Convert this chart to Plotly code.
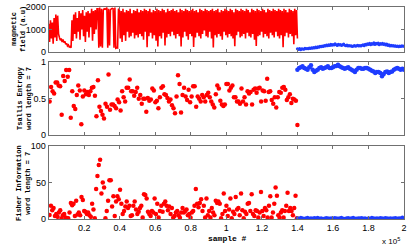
import numpy as np
import plotly.graph_objects as go

# ---------------- data (x in units of 1e5 samples) ----------------
mag_red_a = [1250, 450, 1400, 600, 1300, 380, 1500, 650, 1650, 500, 1600, 800]
mag_red_b = [650, 520, 600, 450, 560, 430, 480, 350, 400, 280, 320, 230, 260, 200]
mag_red_c = [1400, 500, 1650, 800, 1750, 600, 1500, 900, 1800, 550, 1700, 1000, 1850, 700, 1600,
             450, 1750, 900, 1800, 650, 1700, 1100, 1900, 500, 1800, 800, 1850, 1000, 1900]
mag_red_d = [1900, 200, 1950, 250, 1900, 200, 1850, 1900, 1880, 1900, 1950, 200, 1900, 300, 1850,
             1900, 1920, 1900, 200, 1950, 180, 200, 190, 1900]
mag_red_e = [
    1850, 600, 1800, 450, 1900, 750, 1750, 500, 1850, 900, 1800, 650, 1900, 700, 1700, 850, 1850, 600, 1800, 750,
    1900, 650, 1750, 800, 1850, 700, 1800, 550, 1900, 900, 1850, 220, 1800, 700, 1900, 850, 1750, 600, 1850, 750,
    1800, 500, 1900, 250, 1850, 700, 1800, 600, 1900, 850, 1850, 300, 1750, 650, 1900, 800, 1800, 700, 1850, 900,
    1900, 750, 1800, 600, 1850, 800, 1750, 700, 1900, 250, 1850, 650, 1800, 900, 1900, 700, 1850, 550, 1800, 800,
    1850, 700, 1900, 230, 1800, 650, 1850, 850, 1750, 700, 1900, 600, 1850, 800, 1800, 950, 1900, 700, 1850, 650,
    1800, 900, 1850, 600, 1900, 210, 1800, 750, 1850, 650, 1900, 800, 1750, 700, 1850, 550, 1800, 900, 1900, 750,
    1850, 650, 1800, 800, 1900, 700, 1850, 600, 1750, 260, 1900, 750, 1850, 900, 1800, 650, 1900, 700, 1850, 800,
    1800, 600, 1900, 850, 1850, 700, 1750, 650, 1900, 800, 1850, 550, 1800, 280, 1900, 700, 1850, 750, 1800, 900,
    1900, 650, 1850, 800, 1750, 700, 1900, 600, 1850, 850, 1800, 750, 1900, 650, 1850, 900, 1800, 700, 1900, 600,
    1850, 750, 1800, 220, 1900, 700, 1850, 850, 1750, 650, 1900, 800, 1850, 700, 1800, 350, 1900, 750, 1850, 600]

mag_blue = [150, 120, 170, 110, 160, 140, 130, 180, 150, 170,
            160, 190, 170, 200, 180, 210, 190, 230, 200, 240,
            220, 260, 240, 280, 250, 300, 270, 320, 290, 330,
            300, 350, 310, 340, 320, 370, 330, 300, 350, 320,
            340, 300, 330, 360, 310, 290, 320, 280, 300, 270,
            290, 250, 280, 300, 260, 290, 310, 270, 300, 280,
            310, 330, 290, 350, 320, 370, 340, 400, 330, 380,
            350, 420, 340, 390, 360, 410, 330, 380, 350, 400,
            340, 370, 320, 360, 300, 330, 280, 310, 270, 300,
            260, 290, 250, 280, 240, 270, 250, 290, 260, 280]

tsallis_red = [0.46, 0.66, 0.60, 0.57, 0.72, 0.72, 0.68, 0.67, 0.28, 0.81, 0.74, 0.89, 0.80, 0.89, 0.24,
               0.60, 0.40, 0.36, 0.55, 0.68, 0.61, 0.15, 0.53, 0.61, 0.56, 0.59, 0.55, 0.60, 0.65, 0.66,
               0.54, 0.26, 0.75, 0.39, 0.33, 0.28, 0.23, 0.43, 0.39, 0.83, 0.35, 0.42, 0.42, 0.40, 0.37,
               0.49, 0.45, 0.34, 0.60, 0.52, 0.46, 0.65, 0.65, 0.76, 0.60, 0.60, 0.54, 0.59, 0.65, 0.50,
               0.55, 0.43, 0.50, 0.50, 0.32, 0.51, 0.47, 0.49, 0.64, 0.61, 0.45, 0.47, 0.37, 0.52, 0.65,
               0.67, 0.56, 0.55, 0.51, 0.46, 0.49, 0.41, 0.37, 0.30, 0.53, 0.82, 0.70, 0.31, 0.55, 0.65,
               0.53, 0.48, 0.62, 0.45, 0.53, 0.67, 0.67, 0.39, 0.53, 0.50, 0.46, 0.55, 0.52, 0.46, 0.55,
               0.58, 0.52, 0.46, 0.42, 0.38, 0.56, 0.68, 0.64,
               0.47, 0.42, 0.40, 0.42, 0.70, 0.70, 0.61, 0.65, 0.68, 0.52, 0.52, 0.46, 0.46, 0.43, 0.64,
               0.46, 0.52, 0.42, 0.60, 0.57, 0.59, 0.42, 0.62, 0.64, 0.58, 0.64, 0.65, 0.46, 0.61, 0.60,
               0.47, 0.77, 0.59, 0.60, 0.48, 0.43, 0.52, 0.38, 0.52, 0.59, 0.58, 0.65, 0.66, 0.62, 0.48,
               0.52, 0.56, 0.44, 0.50, 0.49, 0.47, 0.14]

tsallis_blue = [0.895, 0.918, 0.927, 0.941, 0.918, 0.909, 0.895, 0.927, 0.954, 0.895, 0.863, 0.881, 0.895,
                0.918, 0.927, 0.909, 0.918, 0.927, 0.941, 0.918, 0.918, 0.927, 0.941, 0.945, 0.963, 0.941,
                0.927, 0.918, 0.909, 0.918, 0.927, 0.909, 0.895, 0.881, 0.863, 0.895, 0.918, 0.918, 0.909,
                0.909, 0.918, 0.918, 0.909, 0.895, 0.881, 0.872, 0.849, 0.863, 0.863, 0.849, 0.804, 0.836,
                0.863, 0.872, 0.849, 0.863, 0.872, 0.895, 0.909, 0.918, 0.909, 0.895, 0.909, 0.895]

fisher_red = [5.5, 18, 12, 15, 4, 7, 3, 9, 12, 1, 5, 7, 2, 1, 1, 9, 22, 19, 21, 4, 25, 6, 9, 5, 30, 26, 11, 10,
              7, 9, 5, 3, 21, 13, 1, 41, 59, 74, 81, 35, 50, 43, 1, 11, 25, 53, 53, 17, 31, 4, 24, 31, 27,
              40, 21, 7, 11, 17, 24, 15, 18, 4, 5, 18, 24, 13, 7, 10, 15, 18, 2, 34, 33, 28, 10, 7, 4, 11,
              9, 28, 7, 21, 2, 11, 18, 10, 21, 24, 18, 12, 17, 7, 15, 2, 4, 9, 11, 5, 2, 9, 15, 9, 11, 13,
              5, 7, 2, 9, 11, 18, 41, 21, 16, 22, 27, 11, 18, 2, 28, 5, 11, 2, 15, 9, 5, 25, 22, 24, 21, 1,
              7, 35, 11, 18, 4, 13, 28, 1, 10, 7, 30, 13, 15, 5, 35, 12, 1, 10, 7, 21, 22, 11, 34, 7, 4, 12,
              11, 2, 9, 37, 11, 4, 15, 12, 2, 18, 31, 2, 9, 21, 43, 32, 5, 2, 9, 12, 2, 11, 18, 36, 11, 15,
              11, 5, 15, 32, 1]

fisher_blue = [1.5, 1.0, 2.0, 1.2, 0.8, 1.5, 2.0, 1.0, 1.3, 0.9, 1.6, 1.2, 2.2, 1.0, 1.4, 0.8, 1.1, 1.8,
               1.3, 1.0, 1.5, 0.9, 1.7, 1.2, 1.0, 1.4, 2.0, 1.1, 0.8, 1.3, 1.6, 1.0, 1.2, 1.9, 1.1, 0.9,
               1.4, 1.2, 1.7, 1.0, 1.3, 0.8, 1.5, 1.1, 2.1, 1.2, 1.0, 1.4, 0.9, 1.6, 1.3, 1.0, 1.8, 1.2,
               1.1, 1.5, 0.9, 1.3, 1.7, 1.0, 1.4, 1.2, 2.4, 1.5]

x_ticks = [0.2, 0.4, 0.6, 0.8, 1.0, 1.2, 1.4, 1.6, 1.8, 2.0]
x_ticktext = ["0.2", "0.4", "0.6", "0.8", "1", "1.2", "1.4", "1.6", "1.8", "2"]

mag_red = mag_red_a + mag_red_b + mag_red_c + mag_red_d + mag_red_e
x_mag_red = np.linspace(0.0, 1.40, len(mag_red))
x_mag_blue = np.linspace(1.40, 2.0, len(mag_blue))
x_ts_red = np.linspace(0.005, 1.40, len(tsallis_red))
x_ts_blue = np.linspace(1.40, 2.0, len(tsallis_blue))
x_fi_red = np.linspace(0.005, 1.397, len(fisher_red))
x_fi_blue = np.linspace(1.40, 2.0, len(fisher_blue))

# ---------------- figure ----------------
W, H = 415, 247
RED = "#ff0000"
BLUE = "#1e3cff"
AX = "#707070"

fig = go.Figure()
fig.add_trace(go.Scatter(x=x_mag_red, y=mag_red, mode="lines",
                         line=dict(color=RED, width=1.6, simplify=False),
                         xaxis="x", yaxis="y"))
fig.add_trace(go.Scatter(x=x_mag_blue, y=mag_blue, mode="lines+markers", line=dict(color=BLUE, width=1),
                         marker=dict(color=BLUE, size=3), xaxis="x", yaxis="y"))
fig.add_trace(go.Scatter(x=x_ts_red, y=tsallis_red, mode="markers", marker=dict(color=RED, size=4.5),
                         xaxis="x2", yaxis="y2"))
fig.add_trace(go.Scatter(x=x_ts_blue, y=tsallis_blue, mode="lines+markers", line=dict(color=BLUE, width=1),
                         marker=dict(color=BLUE, size=4.5), xaxis="x2", yaxis="y2"))
fig.add_trace(go.Scatter(x=x_fi_red, y=fisher_red, mode="markers", marker=dict(color=RED, size=4.5),
                         xaxis="x3", yaxis="y3"))
fig.add_trace(go.Scatter(x=x_fi_blue, y=fisher_blue, mode="lines+markers", line=dict(color=BLUE, width=1),
                         marker=dict(color=BLUE, size=3.5), xaxis="x3", yaxis="y3"))

xd = [48.7 / W, 404 / W]


def ydom(top, bottom):
    return [1 - bottom / H, 1 - top / H]


tickfont = dict(family="Liberation Sans, Arial", size=9, color="black")
common_x = dict(domain=xd, range=[0, 2], tickvals=x_ticks, ticktext=x_ticktext, ticks="inside",
                ticklen=3, tickcolor=AX, showline=True, linecolor=AX, linewidth=1, mirror="ticks",
                showgrid=False, zeroline=False, tickfont=tickfont, automargin=False)
common_y = dict(ticks="inside", ticklen=3, tickcolor=AX, showline=True, linecolor=AX, linewidth=1,
                mirror="ticks", showgrid=False, zeroline=False, tickfont=tickfont, automargin=False)

fig.update_layout(
    width=W, height=H, margin=dict(l=0, r=0, t=0, b=0),
    paper_bgcolor="white", plot_bgcolor="white", showlegend=False,
    xaxis=dict(common_x, anchor="y", showticklabels=False),
    xaxis2=dict(common_x, anchor="y2", showticklabels=False),
    xaxis3=dict(common_x, anchor="y3", showticklabels=True),
    yaxis=dict(common_y, anchor="x", domain=ydom(6.5, 52.3), range=[0, 2000],
               tickvals=[0, 1000, 2000], ticktext=["0", "1000", "2000"]),
    yaxis2=dict(common_y, anchor="x2", domain=ydom(62, 135.3), range=[0, 1],
                tickvals=[0, 0.5, 1], ticktext=["0", "0.5", "1"]),
    yaxis3=dict(common_y, anchor="x3", domain=ydom(146, 219), range=[0, 100],
                tickvals=[0, 50, 100], ticktext=["0", "50", "100"]),
)

tfont = dict(family="Liberation Mono, Courier New", size=7, color="black")
titles = [("<b>magnetic</b><br><b>field (a.u)</b>", 18, 29),
          ("<b>Tsallis Entropy</b><br><b>word length = 7</b>", 25, 98),
          ("<b>Fisher Information</b><br><b>word length = 7</b>", 23, 183)]
for txt, px, py in titles:
    fig.add_annotation(text=txt, x=px / W, y=1 - py / H, xref="paper", yref="paper", showarrow=False,
                       textangle=-90, font=tfont, xanchor="center", yanchor="middle")

fig.add_annotation(text="<b>sample #</b>", x=227 / W, y=1 - 238 / H, xref="paper", yref="paper",
                   showarrow=False, font=dict(family="Liberation Mono, Courier New", size=8, color="black"),
                   xanchor="center", yanchor="middle")
fig.add_annotation(text="x 10<sup>5</sup>", x=402 / W, y=1 - 241 / H, xref="paper", yref="paper",
                   showarrow=False, font=dict(family="Liberation Sans, Arial", size=8, color="black"),
                   xanchor="right", yanchor="middle")

fig.write_html("out.html", config={"displayModeBar": False},
               post_script="document.body.style.margin='0';")
